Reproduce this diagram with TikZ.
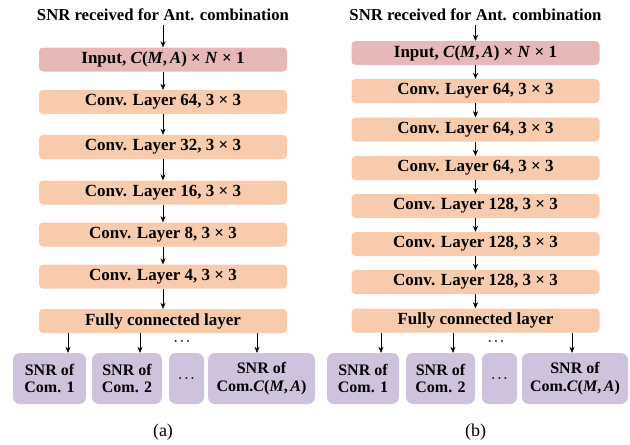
\documentclass[tikz,border=0pt]{standalone}
\usepackage{fontspec}
\setmainfont{Liberation Serif}
\usetikzlibrary{arrows.meta}
\definecolor{InRed}{RGB}{230,184,183}
\definecolor{ConvOrange}{RGB}{248,203,173}
\definecolor{OutPurple}{RGB}{206,194,220}
\tikzset{
  layer/.style={fill=ConvOrange, rounded corners=4pt, minimum width=248pt, minimum height=24pt,
    inner sep=0pt, font=\fontsize{17}{20}\selectfont\bfseries},
  inlayer/.style={layer, fill=InRed},
  outbox/.style={fill=OutPurple, rounded corners=7pt, minimum height=51pt, inner sep=0pt,
    align=center, font=\fontsize{16}{17.5}\selectfont\bfseries},
  titletext/.style={font=\fontsize{16.7}{20}\selectfont\bfseries},
  captext/.style={font=\fontsize{18}{20}\selectfont},
  dots/.style={font=\fontsize{13}{14}\selectfont\boldmath},
  arr/.style={-{Stealth[length=6pt,width=5pt]}, thin},
}
\newcommand{\CMA}{\textit{C}(\textit{M},\,\textit{A})}

\begin{document}
\begin{tikzpicture}[x=1pt, y=-1pt]
\useasboundingbox (0,0) rectangle (630,445);
% (a)
\node[titletext] (titA) at (163,15) {SNR received for Ant. combination};
\node[inlayer] (inA) at (163,59.5) {Input, \CMA{} × \textit{N} × 1};
\foreach \n/\y/\k in {1/102/64, 2/147/32, 3/192.5/16, 4/234.5/8, 5/276.5/4}
  \node[layer] (a\n) at (163,\y) {Conv. Layer \k, 3 × 3};
\node[layer] (fcA) at (163,321) {Fully connected layer};
\foreach \i/\j in {titA/inA, inA/a1, a1/a2, a2/a3, a3/a4, a4/a5, a5/fcA}
  \draw[arr] (\i) -- (\j);
\node[outbox, minimum width=73pt] (oA1) at (49.5,378.5) {SNR of\\Com. 1};
\node[outbox, minimum width=70pt] (oA2) at (127,378.5) {SNR of\\Com. 2};
\node[outbox, dots, minimum width=35pt] (oA3) at (186.5,378.5) {$\cdots$};
\node[outbox, minimum width=107pt] (oA4) at (261.5,378.5) {SNR of\\Com.\CMA};
\node[dots] (dA) at (182,342) {$\cdots$};
\coordinate (xA1) at (68,0);
\coordinate (xA2) at (140,0);
\coordinate (xA4) at (257,0);
\foreach \k in {1,2,4}
  \draw[arr] (fcA.south -| xA\k) -- (oA\k.north -| xA\k);
\node[captext] (capA) at (163,432) {(a)};
% (b)
\node[titletext] (titB) at (475.5,15) {SNR received for Ant. combination};
\node[inlayer] (inB) at (475.5,53) {Input, \CMA{} × \textit{N} × 1};
\foreach \n/\y/\k in {1/91/64, 2/129.5/64, 3/168/64, 4/206/128, 5/244/128, 6/282/128}
  \node[layer] (b\n) at (475.5,\y) {Conv. Layer \k, 3 × 3};
\node[layer] (fcB) at (475.5,320.5) {Fully connected layer};
\foreach \i/\j in {titB/inB, inB/b1, b1/b2, b2/b3, b3/b4, b4/b5, b5/b6, b6/fcB}
  \draw[arr] (\i) -- (\j);
\node[outbox, minimum width=72pt] (oB1) at (363,378.5) {SNR of\\Com. 1};
\node[outbox, minimum width=69pt] (oB2) at (440.5,378.5) {SNR of\\Com. 2};
\node[outbox, dots, minimum width=35pt] (oB3) at (499.5,378.5) {$\cdots$};
\node[outbox, minimum width=106pt] (oB4) at (575,378.5) {SNR of\\Com.\CMA};
\node[dots] (dB) at (496,342) {$\cdots$};
\coordinate (xB1) at (381,0);
\coordinate (xB2) at (453,0);
\coordinate (xB4) at (572,0);
\foreach \k in {1,2,4}
  \draw[arr] (fcB.south -| xB\k) -- (oB\k.north -| xB\k);
\node[captext] (capB) at (475.5,432) {(b)};
\end{tikzpicture}
\end{document}
